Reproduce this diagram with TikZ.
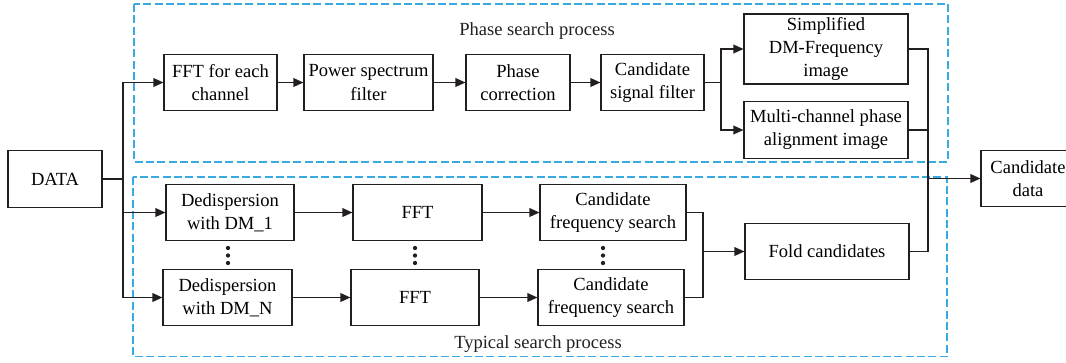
\documentclass[tikz,border=0pt]{standalone}
\usepackage{fontspec}
\setmainfont{Liberation Serif}
\newfontfamily\diagfont{Liberation Serif}
\usetikzlibrary{arrows.meta}
\definecolor{ink}{RGB}{35,31,32}
\definecolor{grpblue}{RGB}{55,170,225}

\begin{document}
\begin{tikzpicture}[x=0.75pt,y=-0.75pt,>={Triangle[length=7.5pt,width=6.5pt]},
  font=\diagfont\fontsize{13.9pt}{17.3pt}\selectfont,
  blk/.style={draw=ink,line width=0.8pt,align=center,minimum height=42.5pt,inner sep=2pt},
  grp/.style={draw=grpblue,line width=1pt,dash pattern=on 6pt off 2.5pt},
  conn/.style={draw=ink,line width=1pt}]
\useasboundingbox (0,0) rectangle (1066,362);
% process frames
\draw[grp] (134,4) rectangle (948,162);
\draw[grp] (133,177) rectangle (947,356.5);
\node[text=ink] (phasettl) at (537,31) {Phase search process};
\node[text=ink] (typttl) at (538,344) {Typical search process};
% input / output
\node[blk,minimum width=70.5pt] (data) at (55,179) {DATA};
\node[blk,minimum width=70.5pt] (cand) at (1028,178.5) {Candidate\\data};
% phase search row
\node[blk,minimum width=84.75pt] (fft) at (220.5,82.5) {FFT for each\\channel};
\node[blk,minimum width=96.75pt] (psf) at (368.5,82.5) {Power spectrum\\filter};
\node[blk,minimum width=78pt] (phc) at (518,82.5) {Phase\\correction};
\node[blk,minimum width=77.25pt] (csf) at (652.5,82.5) {Candidate\\signal filter};
\node[blk,minimum width=123pt,minimum height=52.5pt] (simp) at (826,49) {Simplified\\DM-Frequency\\image};
\node[blk,minimum width=123pt] (multi) at (826,130) {Multi-channel phase\\alignment image};
% typical search rows
\node[blk,minimum width=96pt] (ded1) at (230,212.5) {Dedispersion\\with DM\_1};
\node[blk,minimum width=96.75pt] (dedN) at (227.5,297.5) {Dedispersion\\with DM\_N};
\node[blk,minimum width=96.75pt] (fft1) at (417.5,212.5) {FFT};
\node[blk,minimum width=96pt] (fftN) at (415,297.5) {FFT};
\node[blk,minimum width=109.5pt] (cfs1) at (613,212.5) {Candidate\\frequency search};
\node[blk,minimum width=109.5pt] (cfsN) at (611,297.5) {Candidate\\frequency search};
\node[blk,minimum width=123pt] (fold) at (827,251.5) {Fold candidates};
\foreach \x in {228,415,603}
  \foreach \y in {248,255.5,263}
    \fill[ink] (\x,\y) circle (1.6pt);
% connectors
\coordinate (split) at (123,179);
\coordinate (fork) at (721,82.5);
\coordinate (merge) at (703,251.5);
\coordinate (join) at (928,178.5);
\draw[conn] (data) -- (split);
\draw[conn,->] (split) |- (fft);
\draw[conn,->] (split) |- (ded1);
\draw[conn,->] (split) |- (dedN);
\draw[conn,->] (fft) -- (psf);
\draw[conn,->] (psf) -- (phc);
\draw[conn,->] (phc) -- (csf);
\draw[conn] (csf) -- (fork);
\draw[conn,->] (fork) |- (simp);
\draw[conn,->] (fork) |- (multi);
\draw[conn,->] (ded1) -- (fft1);
\draw[conn,->] (fft1) -- (cfs1);
\draw[conn,->] (dedN) -- (fftN);
\draw[conn,->] (fftN) -- (cfsN);
\draw[conn] (cfs1) -| (merge);
\draw[conn] (cfsN) -| (merge);
\draw[conn,->] (merge) -- (fold);
\draw[conn] (simp) -| (join);
\draw[conn] (multi) -| (join);
\draw[conn] (fold) -| (join);
\draw[conn,->] (join) -- (cand);
\end{tikzpicture}
\end{document}
